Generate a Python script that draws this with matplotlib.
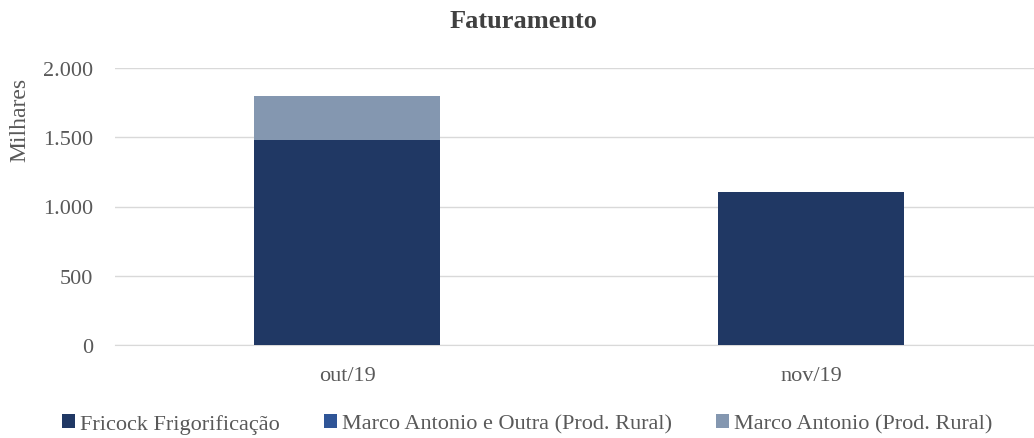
import matplotlib.pyplot as plt
from matplotlib.ticker import FuncFormatter
import numpy as np

plt.rcParams['font.family'] = ['Liberation Serif', 'DejaVu Serif']

# Data (thousands)
categories = ['out/19', 'nov/19']
fricock = [1480, 1105]
marco_outra = [0, 0]
marco_rural = [318, 0]
series_names = ['Fricock Frigorificação', 'Marco Antonio e Outra (Prod. Rural)',
                'Marco Antonio (Prod. Rural)']
colors = ['#203864', '#2F5597', '#8497B0']

fig = plt.figure(figsize=(10.34, 4.39), dpi=100)
ax = fig.add_axes([115 / 1034, 93 / 439, 928 / 1034, 277 / 439])

x = np.arange(len(categories))
bottom = np.zeros(len(categories))
for vals, name, c in zip([fricock, marco_outra, marco_rural], series_names, colors):
    ax.bar(x, vals, width=0.4, bottom=bottom, color=c, label=name, zorder=3)
    bottom += np.array(vals)

ax.set_xlim(-0.5, 1.5)
ax.set_ylim(0, 2000)
ax.set_yticks([0, 500, 1000, 1500, 2000])
ax.yaxis.set_major_formatter(FuncFormatter(lambda v, p: f'{int(v):,}'.replace(',', '.')))
ax.set_xticks(x)
ax.set_xticklabels(categories)
ax.grid(axis='y', color='#D9D9D9', linewidth=1, zorder=0)
for s in ['top', 'right', 'left']:
    ax.spines[s].set_visible(False)
ax.spines['bottom'].set_color('#D9D9D9')
ax.tick_params(axis='y', length=0, labelsize=16, colors='#595959', pad=16)
ax.tick_params(axis='x', length=0, labelsize=16, colors='#595959', pad=15)

fig.text(20 / 1034, 1 - 120 / 439, 'Milhares', rotation=90, ha='center', va='center',
         fontsize=17, color='#595959')
fig.text(523 / 1034, 1 - 21 / 439, 'Faturamento', ha='center', va='center',
         fontsize=19, fontweight='bold', color='#404040')

handles, labels = ax.get_legend_handles_labels()
fig.legend(handles, labels, loc='center', bbox_to_anchor=(527 / 1034, 1 - 425 / 439),
           ncol=3, frameon=False, fontsize=16, labelcolor='#595959',
           handlelength=0.6, handleheight=0.6, handletextpad=0.2, columnspacing=2.0)

fig.savefig('out.png', dpi=100)
